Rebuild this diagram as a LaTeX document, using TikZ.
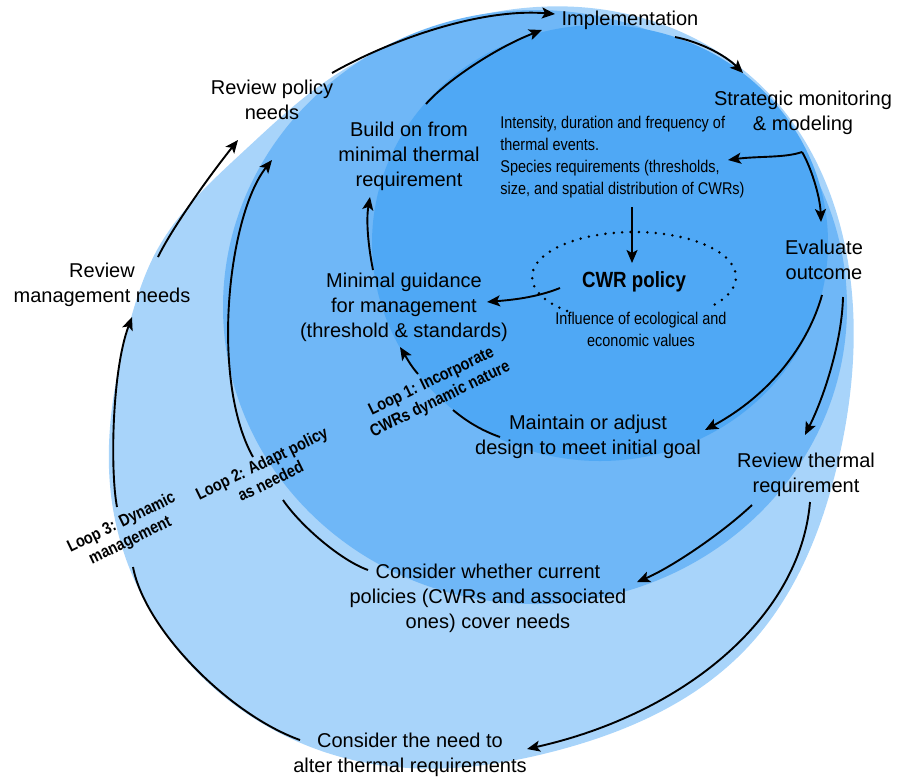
\documentclass[tikz,border=0pt]{standalone}
\usepackage{fontspec}
\setmainfont{Liberation Sans}
\newfontfamily\narrowfont[FakeStretch=0.85]{Liberation Sans}
\usetikzlibrary{arrows.meta, positioning, hobby}
\definecolor{lightblob}{HTML}{A8D4FA}
\definecolor{midblob}{HTML}{6FB7F7}
\definecolor{darkblob}{HTML}{4FA8F5}

\begin{document}
\begin{tikzpicture}[x=0.5pt, y=-0.5pt,
    flow/.style={line width=0.95pt, -{Stealth[length=6.5pt, width=5.5pt, inset=1.5pt]}},
    plain/.style={line width=0.95pt},
    stage/.style={align=center, inner sep=0pt, font=\fontsize{10}{12.5}\selectfont},
    note/.style={align=left, inner sep=0pt, font=\narrowfont\fontsize{8.5}{11}\selectfont},
    looplabel/.style={align=center, inner sep=0pt, rotate=26, font=\narrowfont\bfseries\fontsize{8.5}{10}\selectfont}]
    \useasboundingbox (0,0) rectangle (898,783);

    % Loop 3 area
    \fill[lightblob, use Hobby shortcut, closed=true]
        (606,10) .. (773,98) .. (848,262) .. (838,462) .. (745,650) .. (559,750)
        .. (362,762) .. (196,671) .. (113,509) .. (131,318) .. (157,250)
        .. (245,150) .. (322,84) .. (409,37);
    % Loop 2 area
    \fill[midblob] (535,307) ellipse[x radius=312, y radius=297];
    % Loop 1 area
    \fill[darkblob] (600,243) ellipse[x radius=228, y radius=218];

    % steps
    \node[stage] (impl) at (630,20) {Implementation};
    \node[stage] (strat) at (803,113) {Strategic monitoring\\\& modeling};
    \node[stage] (eval) at (824,260) {Evaluate\\outcome};
    \node[stage] (therm) at (806,475) {Review thermal\\requirement};
    \node[stage] (maint) at (588,437) {Maintain or adjust\\design to meet initial goal};
    \node[stage] (curr) at (488,598) {Consider whether current\\policies (CWRs and associated\\ones) cover needs};
    \node[stage] (alter) at (410,755) {Consider the need to\\alter thermal requirements};
    \node[stage] (mgmt) at (102,285) {Review\\management needs};
    \node[stage] (pol) at (272,100) {Review policy\\needs};
    \node[stage] (build) at (409,156) {Build on from\\minimal thermal\\requirement};
    \node[stage] (min) at (404,307) {Minimal guidance\\for management\\(threshold \& standards)};

    % policy core
    \node[note, anchor=west] (intens) at (500,157) {Intensity, duration and frequency of\\thermal events.\\Species requirements (thresholds,\\size, and spatial distribution of CWRs)};
    \node[inner sep=0pt, font=\narrowfont\bfseries\fontsize{11}{13}\selectfont] (cwr) at (634,282) {CWR policy};
    \node[note, align=center] (infl) at (641,329) {Influence of ecological and\\economic values};
    \coordinate (cwr-c) at (634,277);
    \draw[line width=1.4pt, line cap=round, dash pattern=on 0pt off 4.2pt]
        (cwr-c) ++(131:102 and 45) arc[start angle=131, end angle=400, x radius=102, y radius=45];

    % loop labels
    \node[looplabel] (loop1) at (436,391) {Loop 1: Incorporate\\CWRs dynamic nature};
    \node[looplabel] (loop2) at (266,472) {Loop 2: Adapt policy\\as needed};
    \node[looplabel] (loop3) at (126,532) {Loop 3: Dynamic\\management};

    % connector ends
    \coordinate (alter-w) at (300,740);
    \coordinate (loop3-s) at (133,567);
    \coordinate (loop3-n) at (117,507);
    \coordinate (mgmt-s) at (132,317);
    \coordinate (mgmt-n) at (158,257);
    \coordinate (pol-s1) at (238,140);
    \coordinate (pol-s2) at (272,160);
    \coordinate (pol-e) at (332,73);
    \coordinate (impl-w1) at (555,14);
    \coordinate (impl-w2) at (542,30);
    \coordinate (impl-e) at (675,37);
    \coordinate (strat-n) at (743,73);
    \coordinate (strat-s) at (802,152);
    \coordinate (intens-e) at (728,160);
    \coordinate (eval-n) at (821,222);
    \coordinate (eval-s1) at (822,295);
    \coordinate (eval-s2) at (843,297);
    \coordinate (maint-e) at (705,430);
    \coordinate (maint-w) at (500,437);
    \coordinate (therm-n) at (805,435);
    \coordinate (therm-s1) at (752,505);
    \coordinate (therm-s2) at (810,502);
    \coordinate (curr-e) at (637,582);
    \coordinate (curr-w) at (368,570);
    \coordinate (loop2-s) at (283,500);
    \coordinate (loop2-n) at (253,457);
    \coordinate (alter-e) at (527,749);
    \coordinate (loop1-s) at (453,410);
    \coordinate (loop1-n) at (418,374);
    \coordinate (min-s) at (400,347);
    \coordinate (min-n) at (373,270);
    \coordinate (build-s) at (370,197);
    \coordinate (build-n) at (426,104);
    \coordinate (intens-s) at (632,207);
    \coordinate (cwr-n) at (632,263);
    \coordinate (cwr-w) at (560,288);
    \coordinate (min-e) at (487,302);

    % Loop 3
    \draw[plain] (alter-w) .. controls (230,715) and (145,630) .. (loop3-s);
    \draw[flow] (loop3-n) .. controls (110,470) and (112,370) .. (mgmt-s);
    \draw[flow] (mgmt-n) .. controls (172,228) and (210,175) .. (pol-s1);
    \draw[flow] (pol-e) .. controls (390,40) and (480,8) .. (impl-w1);
    \draw[flow] (therm-s2) .. controls (800,620) and (680,715) .. (alter-e);
    % Loop 2
    \draw[plain] (curr-w) .. controls (340,560) and (300,525) .. (loop2-s);
    \draw[flow] (loop2-n) .. controls (210,380) and (228,215) .. (pol-s2);
    \draw[flow] (eval-s2) .. controls (842,340) and (825,395) .. (therm-n);
    \draw[flow] (therm-s1) .. controls (720,535) and (670,568) .. (curr-e);
    % Loop 1
    \draw[flow] (build-n) .. controls (445,82) and (495,48) .. (impl-w2);
    \draw[flow] (impl-e) .. controls (700,42) and (725,55) .. (strat-n);
    \draw[flow] (strat-s) .. controls (785,158) and (758,156) .. (intens-e);
    \draw[flow] (strat-s) .. controls (810,165) and (820,195) .. (eval-n);
    \draw[flow] (eval-s1) .. controls (808,345) and (770,395) .. (maint-e);
    \draw[plain] (maint-w) .. controls (480,430) and (465,420) .. (loop1-s);
    \draw[flow] (loop1-n) .. controls (410,365) and (405,355) .. (min-s);
    \draw[flow] (min-n) .. controls (368,245) and (366,220) .. (build-s);
    \draw[flow] (intens-s) -- (cwr-n);
    \draw[flow] (cwr-w) .. controls (535,298) and (510,300) .. (min-e);
\end{tikzpicture}
\end{document}
